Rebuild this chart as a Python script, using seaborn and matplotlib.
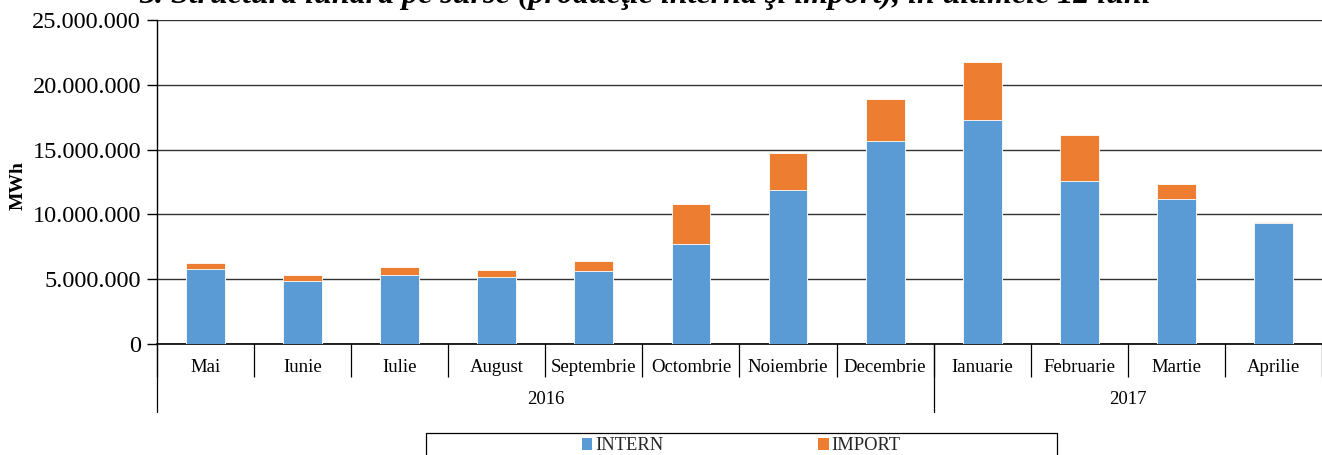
import matplotlib
matplotlib.use("Agg")
import matplotlib.pyplot as plt
import matplotlib.transforms as mtransforms
from matplotlib.patches import Rectangle, Patch
from matplotlib.ticker import FuncFormatter, MultipleLocator, FixedLocator
import seaborn as sns
import numpy as np

# ---- data ----
months = ["Mai", "Iunie", "Iulie", "August", "Septembrie", "Octombrie",
          "Noiembrie", "Decembrie", "Ianuarie", "Februarie", "Martie", "Aprilie"]
years = ["2016", "2017"]
year_counts = [8, 4]
intern = [5760000, 4880000, 5350000, 5170000, 5660000, 7690000,
          11900000, 15660000, 17310000, 12580000, 11160000, 9340000]
import_ = [510000, 440000, 590000, 520000, 740000, 3110000,
           2840000, 3270000, 4450000, 3550000, 1190000, 50000]
series_names = ["INTERN", "IMPORT"]
title = "3. Structura lunară pe surse (producţie internă şi import), în ultimele 12 luni"
ylabel = "MWh"

blue = "#5B9BD5"
orange = "#ED7D31"

sns.set_theme(style="white")
plt.rcParams["font.family"] = ["Liberation Serif", "DejaVu Serif"]

W, H = 1322, 455
fig = plt.figure(figsize=(W / 100, H / 100), dpi=100)
ax = fig.add_axes([157 / W, 1 - 344 / H, (W - 157) / W, (344 - 20) / H])

total = [a + b for a, b in zip(intern, import_)]
sns.barplot(x=months, y=total, order=months, color=orange, saturation=1,
            width=0.4, edgecolor="white", linewidth=0.6, ax=ax, zorder=3)
sns.barplot(x=months, y=intern, order=months, color=blue, saturation=1,
            width=0.4, edgecolor="white", linewidth=0.6, ax=ax, zorder=3)

ax.set_xlim(-0.5, len(months) - 0.5)
ax.set_ylim(0, 25000000)
ax.yaxis.set_major_locator(MultipleLocator(5000000))
ax.yaxis.set_major_formatter(FuncFormatter(lambda v, p: f"{int(round(v)):,}".replace(",", ".")))
ax.grid(axis="y", color="#333333", linewidth=1.0, zorder=0)
ax.set_axisbelow(True)

for s in ["top", "right"]:
    ax.spines[s].set_visible(False)
ax.spines["left"].set_color("black")
ax.spines["left"].set_linewidth(1.0)
ax.spines["bottom"].set_color("black")
ax.spines["bottom"].set_linewidth(1.2)

ax.tick_params(axis="y", which="major", left=True, length=7, width=1.0, color="black",
               labelsize=17.5, pad=4.5, labelcolor="black")
ax.tick_params(axis="x", which="major", bottom=False, length=0, labelsize=13.5,
               pad=11, labelcolor="black")
ax.xaxis.set_minor_locator(FixedLocator(np.arange(-0.5, len(months), 1.0)))
ax.tick_params(axis="x", which="minor", bottom=True, length=24, width=0.9,
               color="black", direction="out")
ax.set_xlabel("")
ax.set_ylabel(ylabel, fontsize=14, fontweight="bold", labelpad=2, color="black")
ax.yaxis.set_label_coords(-0.1116, 0.49)

# year row
trans = mtransforms.blended_transform_factory(ax.transData, ax.transAxes)
start = -0.5
ybot = -(412 - 344) / 324
for yr, n in zip(years, year_counts):
    ax.plot([start, start], [0, ybot], transform=trans, color="black",
            linewidth=0.9, clip_on=False)
    ax.text(start + n / 2, -(400 - 344) / 324, yr, transform=trans,
            ha="center", va="center", fontsize=13.5, color="black")
    start += n

# title (clipped at the top of the image, as in the reference)
fig.text(645 / W, 1 - 3 / H, title, ha="center", va="baseline", fontsize=23,
         fontweight="bold", fontstyle="italic", color="black")

# legend box
fig.patches.append(Rectangle((426 / W, -0.05), (1057 - 426) / W, 0.05 + (455 - 433) / H,
                             transform=fig.transFigure, fill=False, edgecolor="black",
                             linewidth=0.9))
handles = [Patch(facecolor=blue, edgecolor="none"), Patch(facecolor=orange, edgecolor="none")]
fig.legend(handles, series_names, loc="center left",
           bbox_to_anchor=(582 / W, 1 - 446 / H), ncol=2, frameon=False,
           fontsize=13.3, handlelength=0.55, handleheight=0.55, handletextpad=0.15,
           columnspacing=8.4, borderpad=0, borderaxespad=0)

fig.savefig("out.png", dpi=100)
